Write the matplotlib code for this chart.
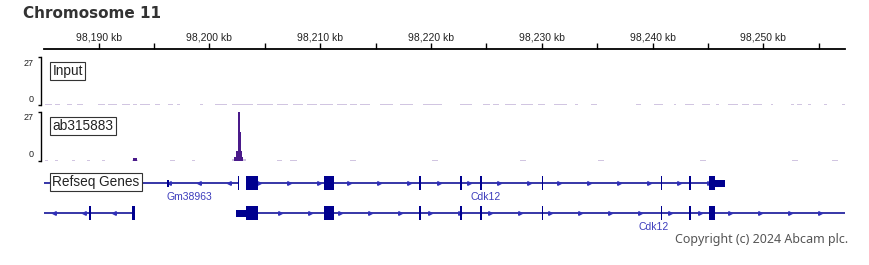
import matplotlib
matplotlib.use("Agg")
from matplotlib import pyplot as plt
from matplotlib.patches import Rectangle
import numpy as np

W, H = 869, 265

# genomic window (kb)
view_start, view_end = 98185.08, 98257.37
major_ticks = [98190, 98200, 98210, 98220, 98230, 98240, 98250]
minor_ticks = [98195, 98205, 98215, 98225, 98235, 98245, 98255]

# coverage tracks: (start kb, end kb, value)
ab_start = [98185.17, 98186.07, 98187.61, 98188.96, 98190.31, 98196.45, 98198.44,
            98206.11, 98207.28, 98212.70, 98220.10, 98228.04, 98235.08, 98244.28,
            98252.59, 98256.20,
            98193.00, 98193.11, 98193.47, 98202.08, 98202.26, 98202.41, 98202.56,
            98202.77, 98202.86, 98202.95, 98203.07]
ab_end = [98185.44, 98186.34, 98187.88, 98189.23, 98190.58, 98196.90, 98198.71,
          98206.56, 98207.91, 98213.24, 98220.64, 98228.58, 98235.62, 98244.83,
          98253.13, 98256.74,
          98193.11, 98193.47, 98193.60, 98202.26, 98202.41, 98202.56, 98202.77,
          98202.86, 98202.95, 98203.07, 98203.31]
ab_val = [0.3, 0.3, 0.3, 0.3, 0.3, 0.3, 0.3, 0.3, 0.3, 0.3, 0.3, 0.3, 0.3, 0.3, 0.3, 0.3,
          0.4, 1.2, 0.4, 0.6, 1.8, 5.5, 27.0, 15.6, 5.5, 1.8, 0.6]

input_start = [98185.17, 98186.07, 98187.16, 98188.06, 98189.95, 98190.86, 98192.12,
               98193.11, 98193.74, 98195.10, 98196.27, 98197.08, 98199.16, 98200.51,
               98202.05, 98202.77, 98204.30, 98206.11, 98207.55, 98208.82, 98210.00,
               98211.52, 98212.70, 98213.60, 98215.40, 98217.21, 98219.29, 98220.82,
               98222.62, 98224.70, 98225.60, 98226.69, 98228.13, 98229.66, 98231.11,
               98233.00, 98234.45, 98238.51, 98240.13, 98241.94, 98242.93, 98244.46,
               98245.73, 98246.81, 98248.08, 98249.07, 98250.70, 98252.50, 98253.04,
               98254.03, 98255.47, 98257.10]
input_end = [98185.80, 98186.52, 98187.61, 98188.60, 98190.59, 98191.67, 98192.84,
             98193.47, 98194.65, 98195.55, 98196.72, 98197.35, 98199.43, 98201.60,
             98202.77, 98203.94, 98205.75, 98207.10, 98208.46, 98209.72, 98211.16,
             98212.43, 98213.33, 98214.50, 98216.58, 98218.38, 98220.82, 98221.00,
             98223.71, 98225.33, 98226.14, 98227.68, 98229.21, 98230.30, 98232.28,
             98233.27, 98234.99, 98238.96, 98240.94, 98242.12, 98243.74, 98245.19,
             98246.00, 98247.72, 98248.71, 98249.89, 98250.88, 98252.77, 98253.49,
             98254.30, 98255.74, 98257.37]
input_val = [0.3, 0.3, 0.3, 0.3, 0.3, 0.3, 0.3, 0.6, 0.3, 0.3, 0.3, 0.3, 0.3, 0.3,
             0.3, 0.3, 0.3, 0.5, 0.3, 0.3, 0.3, 0.3, 0.3, 0.3, 0.3, 0.3, 0.3, 0.5,
             0.3, 0.3, 0.3, 0.3, 0.5, 0.3, 0.3, 0.3, 0.3, 0.3, 0.3, 0.3, 0.5, 0.3,
             0.3, 0.3, 0.3, 0.3, 0.3, 0.3, 0.3, 0.3, 0.3, 0.3]

# Refseq genes: name, row, strand, start, end, exons [(start, end, kind)]
gene_names = [None, "Gm38963", "Cdk12", None, "Cdk12"]
gene_rows = [0, 0, 0, 1, 1]
gene_strand = ["-", "-", "+", "-", "+"]
gene_start = [98180.00, 98193.74, 98203.31, 98180.00, 98202.41]
gene_end = [98193.74, 98202.59, 98246.54, 98193.29, 98277.86]
gene_arrow0 = [98186.50, 98196.40, 98204.49, 98186.00, 98206.38]
gene_exons = [
    [],
    [(98195.06, 98195.14, "utr"), (98196.22, 98196.36, "utr"), (98202.55, 98202.64, "cds")],
    [(98203.31, 98204.39, "cds"), (98210.35, 98211.25, "cds"), (98218.96, 98219.10, "cds"),
     (98220.97, 98221.04, "cds"), (98222.66, 98222.80, "cds"), (98224.47, 98224.61, "cds"),
     (98229.99, 98230.07, "cds"), (98230.80, 98230.88, "cds"), (98236.66, 98236.74, "cds"),
     (98240.73, 98240.81, "cds"), (98241.63, 98241.71, "cds"), (98243.33, 98243.47, "cds"),
     (98245.10, 98245.64, "cds"), (98245.64, 98246.54, "utr")],
    [(98189.15, 98189.33, "cds"), (98193.02, 98193.29, "cds")],
    [(98202.41, 98203.31, "utr"), (98203.31, 98204.39, "cds"), (98210.35, 98211.25, "cds"),
     (98218.96, 98219.10, "cds"), (98220.97, 98221.04, "cds"), (98222.66, 98222.80, "cds"),
     (98224.47, 98224.61, "cds"), (98229.99, 98230.07, "cds"), (98230.80, 98230.88, "cds"),
     (98236.66, 98236.74, "cds"), (98240.73, 98240.81, "cds"), (98241.63, 98241.71, "cds"),
     (98243.33, 98243.47, "cds"), (98245.10, 98245.64, "cds")],
]

purple = "#4a1a8a"
navy = "#00008f"
label_blue = "#3c3cbc"
box = dict(boxstyle="square,pad=0.15", fc="white", ec="#333333", lw=0.8)


def px_axes(fig, x0, y0, x1, y1):
    return fig.add_axes([x0 / W, 1 - y1 / H, (x1 - x0) / W, (y1 - y0) / H])


fig = plt.figure(figsize=(W / 100, H / 100), dpi=100)
fig.patch.set_facecolor("white")

fig.text(23 / W, 1 - 14 / H, "Chromosome 11", family="DejaVu Sans", weight="bold",
         fontsize=11, color="#333333", va="center", ha="left")

# ruler
ax_r = px_axes(fig, 44, 28, 845, 49)
ax_r.set_xlim(view_start, view_end)
ax_r.set_ylim(0, 1)
for s in ["top", "left", "right"]:
    ax_r.spines[s].set_visible(False)
ax_r.spines["bottom"].set_linewidth(1.3)
ax_r.set_yticks([])
ax_r.set_xticks(major_ticks)
ax_r.set_xticks(minor_ticks, minor=True)
ax_r.tick_params(axis="x", which="both", direction="in", length=4, width=1,
                 labelbottom=False)
ax_r.patch.set_visible(False)
for t in major_ticks:
    ax_r.text(t, 0.55, f"{t:,} kb", ha="center", va="center", fontsize=7.5,
              family="Liberation Sans", color="#222222")


def signal_track(y0, y1, starts, ends, vals, name):
    ax = px_axes(fig, 44, y0, 845, y1)
    ax.set_xlim(view_start, view_end)
    ax.set_ylim(0, 27)
    for s in ["top", "right", "bottom"]:
        ax.spines[s].set_visible(False)
    ax.spines["left"].set_position(("outward", 2.2))
    ax.spines["left"].set_linewidth(1)
    ax.set_xticks([])
    ax.set_yticks([0, 27])
    ax.tick_params(axis="y", length=2.5, width=1, labelleft=False)
    ax.patch.set_visible(False)
    starts = np.array(starts)
    ends = np.array(ends)
    vals = np.array(vals)
    faint = vals < 0.7
    ax.bar(starts[faint], vals[faint], width=(ends - starts)[faint], align="edge",
           color=purple, alpha=0.25, linewidth=0)
    ax.bar(starts[~faint], vals[~faint], width=(ends - starts)[~faint], align="edge",
           color=purple, linewidth=0)
    ax.annotate("27", xy=(0, 27), xycoords=("axes fraction", "data"), xytext=(-10, -6),
                textcoords="offset pixels", ha="right", va="center", fontsize=6.5,
                family="Liberation Sans", color="#222222")
    ax.annotate("0", xy=(0, 0), xycoords=("axes fraction", "data"), xytext=(-10, 6),
                textcoords="offset pixels", ha="right", va="center", fontsize=6.5,
                family="Liberation Sans", color="#222222")
    ax.text(8.5 / 801, (y1 - y0 - 14) / (y1 - y0), name, transform=ax.transAxes,
            ha="left", va="center", fontsize=9.8, family="Liberation Sans", color="#222222",
            bbox=box)
    return ax


signal_track(57, 105, input_start, input_end, input_val, "Input")
signal_track(112, 160.5, ab_start, ab_end, ab_val, "ab315883")

# gene track
ax_g = px_axes(fig, 44, 168, 845, 228)
ax_g.set_xlim(view_start, view_end)
ax_g.set_ylim(1.5, -0.5)
ax_g.axis("off")
half = {"cds": 7 / 30, "utr": 3.5 / 30}
arrow_step = 30 / 11.08
for name, row, strand, gs, ge, a0, exons in zip(gene_names, gene_rows, gene_strand,
                                                 gene_start, gene_end, gene_arrow0, gene_exons):
    ax_g.hlines(row, gs, ge, color=navy, lw=1.1, zorder=2)
    arrows = np.arange(a0, ge, arrow_step)
    ax_g.plot(arrows, np.full(len(arrows), row), ls="none",
              marker=">" if strand == "+" else "<", ms=2.6, color="#3030b8",
              mec="#3030b8", zorder=3)
    for es, ee, kind in exons:
        h = half[kind]
        ax_g.add_patch(Rectangle((es, row - h), ee - es, 2 * h, color=navy, lw=0, zorder=4))
    if name:
        ax_g.text((gs + ge) / 2, row + 14 / 30, name, ha="center", va="center",
                  fontsize=7.5, family="Liberation Sans", color=label_blue, clip_on=False)

ax_g.text(8.5 / 801, 1 - 14 / 60, "Refseq Genes", transform=ax_g.transAxes, ha="left",
          va="center", fontsize=9.8, family="Liberation Sans", color="#222222", zorder=6,
          bbox=box)

fig.text(848 / W, 1 - 240 / H, "Copyright (c) 2024 Abcam plc.", ha="right", va="center",
         fontsize=9, family="Noto Sans", color="#555555")

fig.savefig("out.png", dpi=100)
